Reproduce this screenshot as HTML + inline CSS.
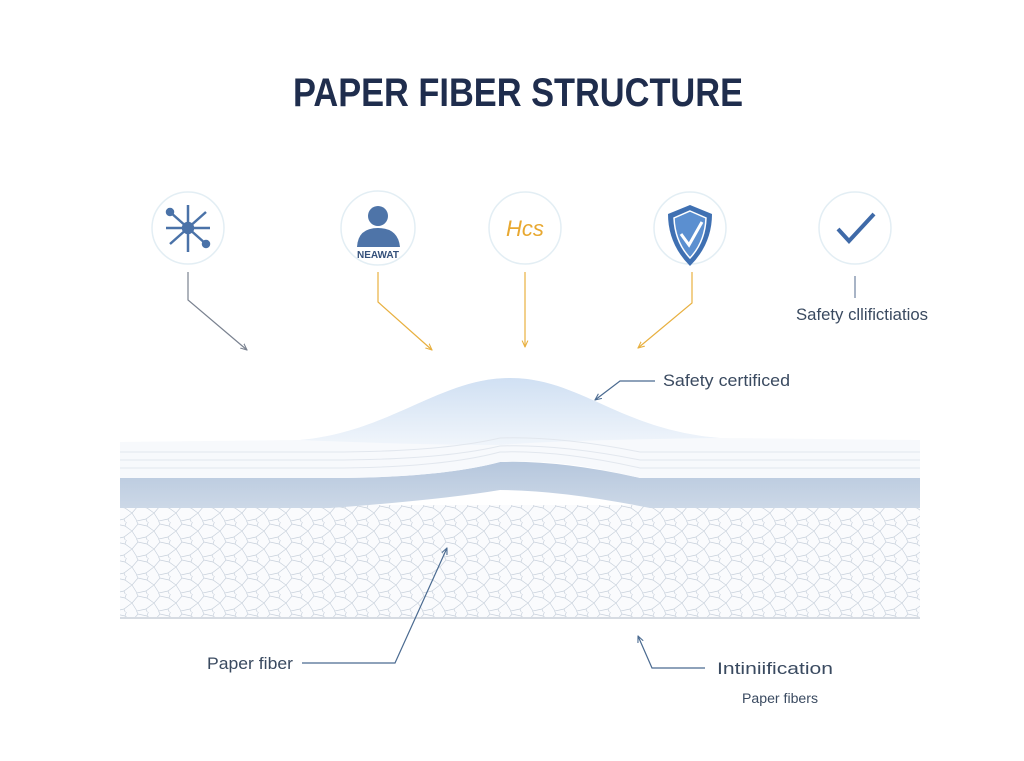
<!DOCTYPE html>
<html><head><meta charset="utf-8"><style>
html,body{margin:0;padding:0;background:#fff;}
svg{display:block;font-family:"Liberation Sans",sans-serif;}
</style></head><body>
<svg width="1024" height="761" viewBox="0 0 1024 761" xmlns="http://www.w3.org/2000/svg">
<defs>
<linearGradient id="hump" x1="0" y1="0" x2="0" y2="1">
<stop offset="0" stop-color="#d0e0f3"/><stop offset="1" stop-color="#f0f5fb"/>
</linearGradient>
<linearGradient id="band" x1="0" y1="0" x2="0" y2="1">
<stop offset="0" stop-color="#b6c7dd"/><stop offset="1" stop-color="#ccd8e7"/>
</linearGradient>
<pattern id="mesh" width="22" height="18" patternUnits="userSpaceOnUse">
<path d="M0 9 L6 2 L15 4 L22 9 M6 2 L4 -2 M15 4 L17 -2 M0 9 L5 17 L14 15 L22 9 M5 17 L4 20 M14 15 L16 20" fill="none" stroke="#c7d0db" stroke-width="0.7"/>
</pattern>
<marker id="ag" viewBox="0 0 10 10" refX="9" refY="5" markerWidth="6" markerHeight="6" orient="auto"><path d="M0 1 L9 5 L0 9" fill="none" stroke="#7a8290" stroke-width="1.5"/></marker>
<marker id="ao" viewBox="0 0 10 10" refX="9" refY="5" markerWidth="6" markerHeight="6" orient="auto"><path d="M0 1 L9 5 L0 9" fill="none" stroke="#e8b040" stroke-width="1.5"/></marker>
<marker id="ab" viewBox="0 0 10 10" refX="9" refY="5" markerWidth="6" markerHeight="6" orient="auto"><path d="M0 1 L9 5 L0 9" fill="none" stroke="#4a6a90" stroke-width="1.5"/></marker>
</defs>

<text x="518" y="106" text-anchor="middle" font-size="40" font-weight="bold" fill="#1f2d4d" textLength="450" lengthAdjust="spacingAndGlyphs">PAPER FIBER STRUCTURE</text>

<g fill="#fff" stroke="#e3eef4" stroke-width="1.5">
<circle cx="188" cy="228" r="36"/><circle cx="378" cy="228" r="37"/><circle cx="525" cy="228" r="36"/><circle cx="690" cy="228" r="36"/><circle cx="855" cy="228" r="36"/>
</g>
<g stroke="#4a72a8" stroke-width="2.5" fill="#4a72a8">
<line x1="170" y1="212" x2="206" y2="244"/><line x1="206" y1="212" x2="170" y2="244"/><line x1="188" y1="205" x2="188" y2="252"/><line x1="166" y1="228" x2="210" y2="228"/>
<circle cx="188" cy="228" r="5"/><circle cx="170" cy="212" r="3"/><circle cx="206" cy="244" r="3"/>
</g>
<g fill="#4e74a8">
<circle cx="378" cy="216" r="10"/><path d="M357 247 Q358 228 378 228 Q398 228 400 247 Z"/>
</g>
<text x="378" y="258" text-anchor="middle" font-size="10" font-weight="bold" fill="#34507a">NEAWAT</text>
<text x="525" y="236" text-anchor="middle" font-size="22" font-style="italic" fill="#e8a830">Hcs</text>
<path d="M690 205 L712 214 Q712 244 690 266 Q668 244 668 214 Z" fill="#3f70b2"/>
<path d="M690 211 L706 218 Q705 242 690 258 Q675 242 674 218 Z" fill="#5b8fd0" stroke="#fff" stroke-width="1.5"/>
<path d="M681 234 L689 245 L702 222" fill="none" stroke="#fff" stroke-width="3"/>
<path d="M838 229 L849 241 L874 214" fill="none" stroke="#3f6aa8" stroke-width="4"/>

<path d="M188 272 L188 300 L247 350" fill="none" stroke="#7a8290" stroke-width="1.2" marker-end="url(#ag)"/>
<path d="M378 272 L378 302 L432 350" fill="none" stroke="#e8b040" stroke-width="1.2" marker-end="url(#ao)"/>
<path d="M525 272 L525 347" fill="none" stroke="#e8b040" stroke-width="1.2" marker-end="url(#ao)"/>
<path d="M692 272 L692 303 L638 348" fill="none" stroke="#e8b040" stroke-width="1.2" marker-end="url(#ao)"/>
<line x1="855" y1="276" x2="855" y2="298" stroke="#6d82a0" stroke-width="1.2"/>
<text x="796" y="320" font-size="16.5" fill="#3a4a60" textLength="132" lengthAdjust="spacingAndGlyphs">Safety cllifictiatios</text>

<rect x="120" y="505" width="800" height="113" fill="#fafbfd"/>
<rect x="120" y="505" width="800" height="113" fill="url(#mesh)"/>
<line x1="120" y1="618" x2="920" y2="618" stroke="#d6dbe2" stroke-width="2"/>
<path d="M120 478 L330 478 Q440 478 500 462 Q560 460 640 478 L920 478 L920 508 L650 508 Q560 490 500 490 Q440 500 330 508 L120 508 Z" fill="url(#band)"/>
<path d="M120 442 L300 440 C390 432 440 378 510 378 C580 378 620 430 720 438 L920 440 L920 478 L640 478 Q560 458 500 462 Q440 478 330 478 L120 478 Z" fill="#f7f9fc"/>
<path d="M300 440 C390 432 440 378 510 378 C580 378 620 430 720 438 Q560 440 500 445 Q420 445 300 440 Z" fill="url(#hump)"/>
<g fill="none" stroke="#e2e7ee" stroke-width="1">
<path d="M120 452 L330 452 Q440 452 500 438 Q560 436 640 452 L920 452"/>
<path d="M120 460 L330 460 Q440 460 500 446 Q560 444 640 460 L920 460"/>
<path d="M120 468 L330 468 Q440 468 500 452 Q560 450 640 468 L920 468"/>
</g>

<text x="663" y="386" font-size="16.5" fill="#3a4a60" textLength="127" lengthAdjust="spacingAndGlyphs">Safety certificed</text>
<path d="M655 381 L620 381 L595 400" fill="none" stroke="#4a6a90" stroke-width="1.2" marker-end="url(#ab)"/>
<text x="207" y="669" font-size="17" fill="#3a4a60" textLength="86" lengthAdjust="spacingAndGlyphs">Paper fiber</text>
<path d="M302 663 L395 663 L447 548" fill="none" stroke="#4a6a90" stroke-width="1.2" marker-end="url(#ab)"/>
<text x="717" y="674" font-size="17" fill="#3a4a60" textLength="116" lengthAdjust="spacingAndGlyphs">Intiniification</text>
<path d="M705 668 L652 668 L638 636" fill="none" stroke="#4a6a90" stroke-width="1.2" marker-end="url(#ab)"/>
<text x="742" y="703" font-size="13.5" fill="#3a4a60" textLength="76" lengthAdjust="spacingAndGlyphs">Paper fibers</text>
</svg>
</body></html>
